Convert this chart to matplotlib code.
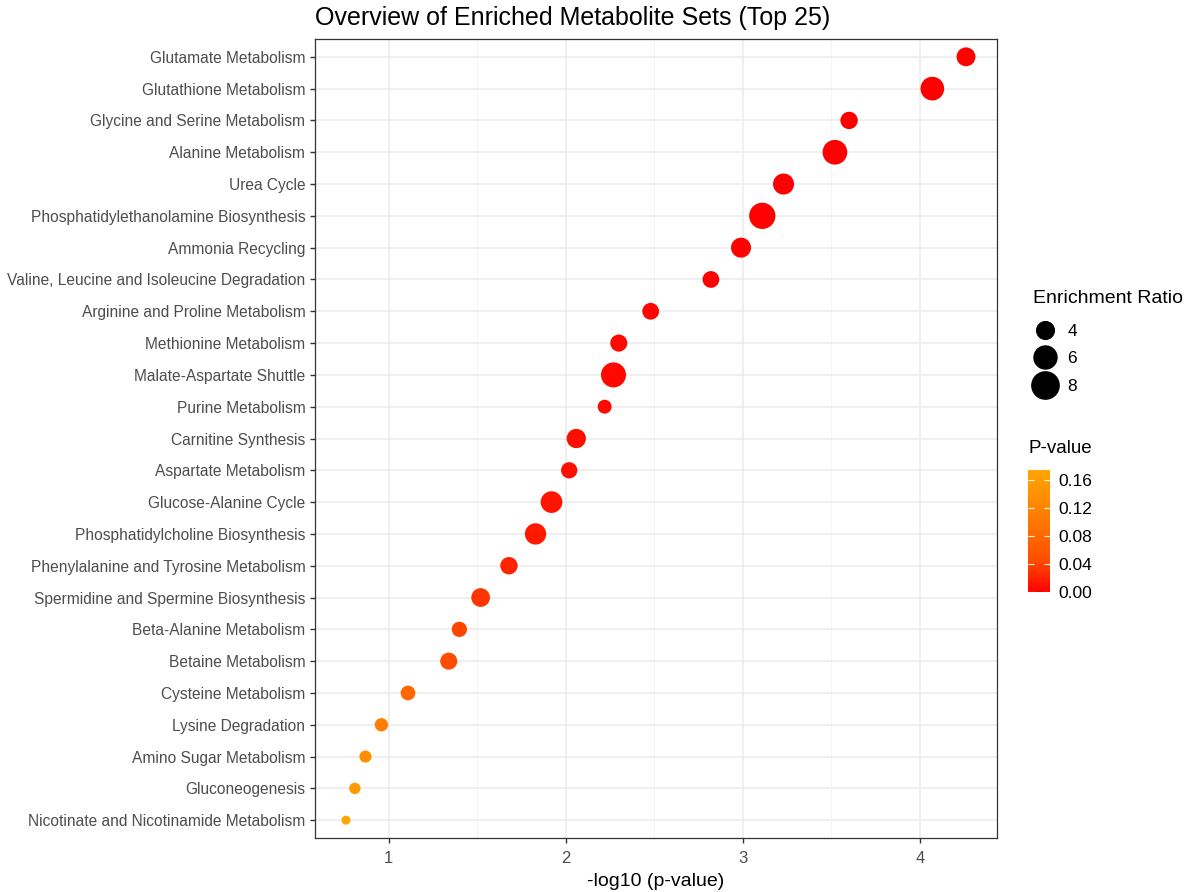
import numpy as np
import matplotlib
matplotlib.use('Agg')
import matplotlib.pyplot as plt
from matplotlib.colors import LinearSegmentedColormap, Normalize
from matplotlib.cm import ScalarMappable
from matplotlib.lines import Line2D

# metabolite sets, top to bottom as in the chart
sets = ["Glutamate Metabolism", "Glutathione Metabolism", "Glycine and Serine Metabolism",
        "Alanine Metabolism", "Urea Cycle", "Phosphatidylethanolamine Biosynthesis",
        "Ammonia Recycling", "Valine, Leucine and Isoleucine Degradation",
        "Arginine and Proline Metabolism", "Methionine Metabolism", "Malate-Aspartate Shuttle",
        "Purine Metabolism", "Carnitine Synthesis", "Aspartate Metabolism",
        "Glucose-Alanine Cycle", "Phosphatidylcholine Biosynthesis",
        "Phenylalanine and Tyrosine Metabolism", "Spermidine and Spermine Biosynthesis",
        "Beta-Alanine Metabolism", "Betaine Metabolism", "Cysteine Metabolism",
        "Lysine Degradation", "Amino Sugar Metabolism", "Gluconeogenesis",
        "Nicotinate and Nicotinamide Metabolism"]
neglogp = [4.26, 4.07, 3.60, 3.52, 3.23, 3.11, 2.99, 2.82, 2.48, 2.30, 2.27, 2.22, 2.06,
           2.02, 1.92, 1.83, 1.68, 1.52, 1.40, 1.34, 1.11, 0.96, 0.87, 0.81, 0.76]
ratio = [4.4, 6.3, 3.9, 6.75, 5.2, 7.5, 4.8, 3.7, 3.7, 3.8, 6.9, 2.9, 4.55, 3.55,
         5.45, 5.3, 3.9, 4.35, 3.25, 3.8, 3.1, 2.75, 2.45, 2.3, 1.85]
size_breaks = [4, 6, 8]
p_ticks = [0.00, 0.04, 0.08, 0.12, 0.16]

neglogp = np.array(neglogp)
pval = 10 ** (-neglogp)
ratio = np.array(ratio)
ypos = np.arange(len(sets))[::-1]

def msize(r):
    # marker area in points^2
    return 56 * (np.asarray(r) - 1.1)

cmap = LinearSegmentedColormap.from_list(
    'redorange', [(0, '#FF0000'), (0.25, '#FF4B00'), (0.5, '#FF6E00'),
                  (0.75, '#FF8B00'), (1, '#FFA500')])
norm = Normalize(vmin=pval.min(), vmax=pval.max())

plt.rcParams['font.family'] = ['Liberation Sans', 'DejaVu Sans']
fig = plt.figure(figsize=(11.9, 8.92), dpi=100)
ax = fig.add_axes([315/1190, 1-838/892, (997-315)/1190, (838-39)/892])

ax.scatter(neglogp, ypos, s=msize(ratio), c=pval, cmap=cmap, norm=norm,
           edgecolors='none', zorder=3)

ax.set_xticks([1, 2, 3, 4])
ax.set_xticks([0.5, 1.5, 2.5, 3.5], minor=True)
ax.set_yticks(ypos)
ax.set_yticklabels(sets, fontsize=11.2)
span = neglogp.max() - neglogp.min()
ax.set_xlim(neglogp.min() - 0.05*span, neglogp.max() + 0.05*span)
ax.set_ylim(-0.56, len(sets) - 1 + 0.56)
ax.grid(which='major', color='#EBEBEB', lw=1.1, zorder=0)
ax.grid(which='minor', axis='x', color='#F2F2F2', lw=0.6, zorder=0)
ax.tick_params(which='major', length=3.5, width=1, color='#333333', labelcolor='#4D4D4D')
ax.tick_params(axis='x', labelsize=12, pad=6)
ax.tick_params(which='minor', length=0)
for s in ax.spines.values():
    s.set_color('#333333')
    s.set_linewidth(0.9)
ax.set_xlabel('-log10 (p-value)', fontsize=14, color='black', labelpad=5)
ax.set_title('Overview of Enriched Metabolite Sets (Top 25)', fontsize=18, loc='left',
             pad=10)

# size legend
handles = [Line2D([], [], ls='none', marker='o', color='black',
                  markersize=float(np.sqrt(msize(b)))) for b in size_breaks]
leg = fig.legend(handles, [str(b) for b in size_breaks], title='Enrichment Ratio',
                 loc='upper left', bbox_to_anchor=(1019/1190, 1-276/892), frameon=False,
                 fontsize=12.5, title_fontsize=14, handletextpad=0.6, labelspacing=0.72,
                 alignment='left', handlelength=1.4, borderpad=0.3)
leg._legend_box.sep = 12

# colour bar
fig.text(1029/1190, 1-449/892, 'P-value', fontsize=13.5, va='center', ha='left')
cax = fig.add_axes([1028/1190, 1-592/892, 22/1190, 122/892])
cb = fig.colorbar(ScalarMappable(norm=norm, cmap=cmap), cax=cax)
cb.outline.set_visible(False)
cb.set_ticks(p_ticks)
cb.set_ticklabels(['%.2f' % t for t in p_ticks])
cax.tick_params(left=True, right=True, labelleft=False, labelright=True, direction='in',
                length=4, width=0.8, color='white', labelsize=12.5, pad=6)

fig.savefig('out.png', dpi=100)
